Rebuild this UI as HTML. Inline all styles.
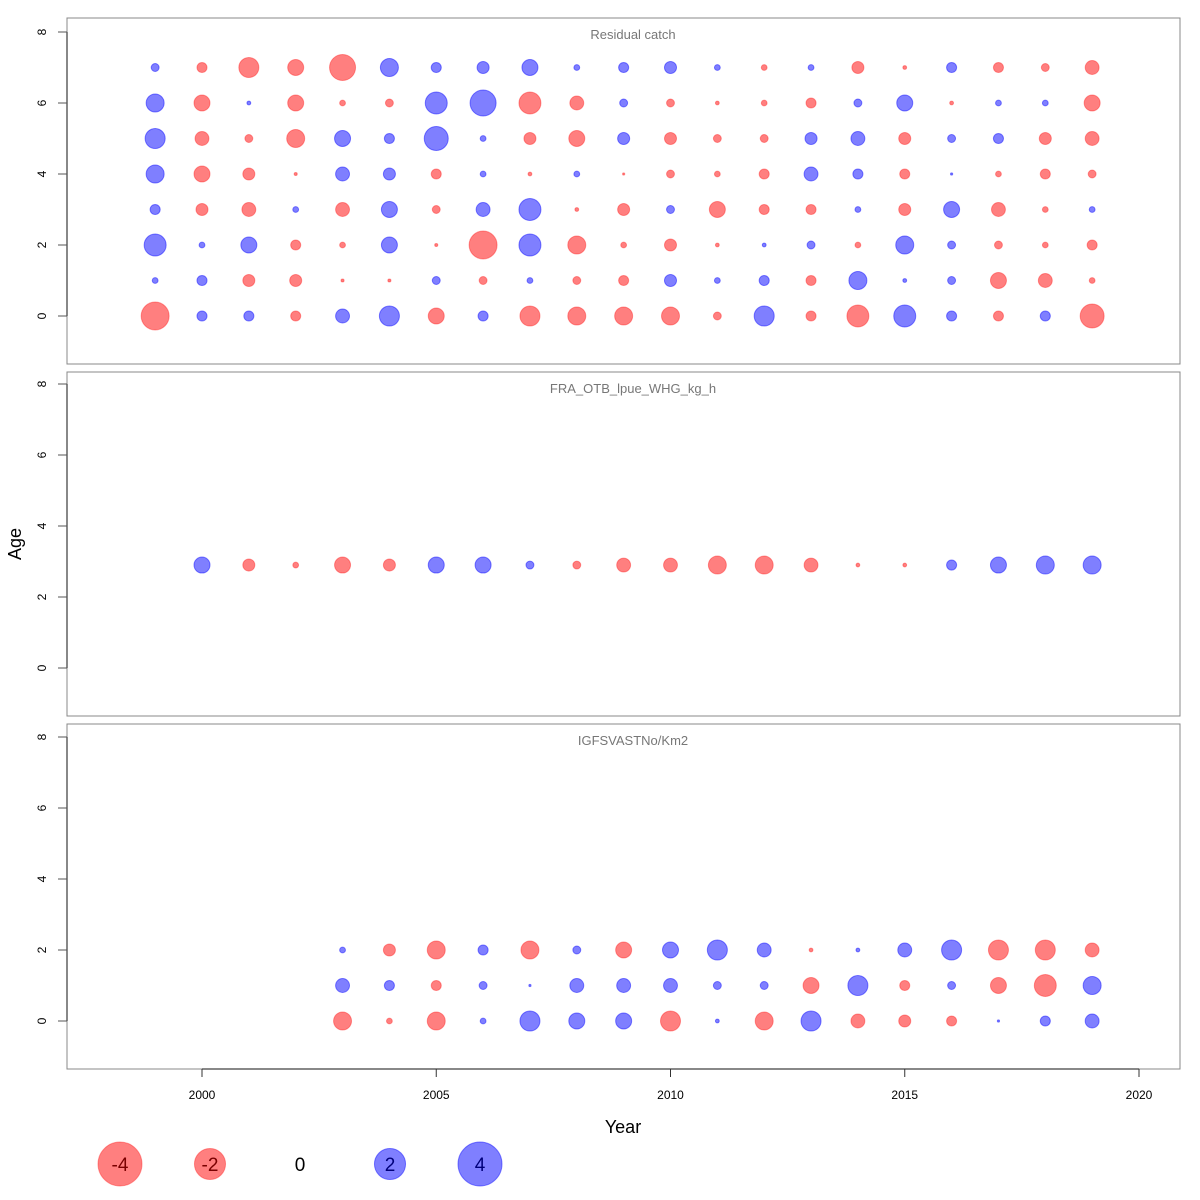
<!DOCTYPE html>
<html><head><meta charset="utf-8"><style>
body{margin:0;background:#fff}
svg{display:block;font-family:"Liberation Sans","DejaVu Sans",sans-serif}
</style></head><body>
<svg id="chart" width="1200" height="1200" viewBox="0 0 1200 1200"></svg>
<script>
const years1 = [1999,2000,2001,2002,2003,2004,2005,2006,2007,2008,2009,2010,2011,2012,2013,2014,2015,2016,2017,2018,2019];
const catchAge0 = [-1.62,0.21,0.21,-0.21,0.4,0.83,-0.53,0.21,-0.83,-0.67,-0.67,-0.67,-0.13,0.83,-0.21,-1.0,1.0,0.21,-0.21,0.21,-1.19];
const catchAge1 = [0.07,0.21,-0.3,-0.3,-0.02,-0.02,0.13,-0.13,0.07,-0.13,-0.21,0.3,0.07,0.21,-0.21,0.67,0.03,0.13,-0.53,-0.4,-0.07];
const catchAge2 = [1.0,0.07,0.53,-0.21,-0.07,0.53,-0.02,-1.62,1.0,-0.67,-0.07,-0.3,-0.03,0.03,0.13,-0.07,0.67,0.13,-0.13,-0.07,-0.21];
const catchAge3 = [0.21,-0.3,-0.4,0.07,-0.4,0.53,-0.13,0.4,1.0,-0.03,-0.3,0.13,-0.53,-0.21,-0.21,0.07,-0.3,0.53,-0.4,-0.07,0.07];
const catchAge4 = [0.67,-0.53,-0.3,-0.02,0.4,0.3,-0.21,0.07,-0.03,0.07,-0.01,-0.13,-0.07,-0.21,0.4,0.21,-0.21,0.01,-0.07,-0.21,-0.13];
const catchAge5 = [0.83,-0.4,-0.13,-0.67,0.53,0.21,1.19,0.07,-0.3,-0.53,0.3,-0.3,-0.13,-0.13,0.3,0.4,-0.3,0.13,0.21,-0.3,-0.4];
const catchAge6 = [0.67,-0.53,0.03,-0.53,-0.07,-0.13,1.0,1.4,-1.0,-0.4,0.13,-0.13,-0.03,-0.07,-0.21,0.13,0.53,-0.03,0.07,0.07,-0.53];
const catchAge7 = [0.13,-0.21,-0.83,-0.53,-1.4,0.67,0.21,0.3,0.53,0.07,0.21,0.3,0.07,-0.07,0.07,-0.3,-0.03,0.21,-0.21,-0.13,-0.4];
const years2 = [2000,2001,2002,2003,2004,2005,2006,2007,2008,2009,2010,2011,2012,2013,2014,2015,2016,2017,2018,2019];
const lpueAge = 2.9;
const lpueVals = [0.53,-0.3,-0.07,-0.53,-0.3,0.53,0.53,0.13,-0.13,-0.4,-0.4,-0.67,-0.67,-0.4,-0.03,-0.03,0.21,0.53,0.67,0.67];
const years3 = [2003,2004,2005,2006,2007,2008,2009,2010,2011,2012,2013,2014,2015,2016,2017,2018,2019];
const surveyAge0 = [-0.67,-0.07,-0.67,0.07,0.83,0.53,0.53,-0.83,0.03,-0.67,0.83,-0.4,-0.3,-0.21,0.01,0.21,0.4];
const surveyAge1 = [0.4,0.21,-0.21,0.13,0.01,0.4,0.4,0.4,0.13,0.13,-0.53,0.83,-0.21,0.13,-0.53,-1.0,0.67];
const surveyAge2 = [0.07,-0.3,-0.67,0.21,-0.67,0.13,-0.53,0.53,0.83,0.4,-0.03,0.03,0.4,0.83,-0.83,-0.83,-0.4];
const xTicks = [2000,2005,2010,2015,2020];
const yTicks = [0,2,4,6,8];
const legendVals = [-4,-2,0,2,4];

const NS="http://www.w3.org/2000/svg";
const svg=document.getElementById('chart');
function el(tag,attrs,parent){const e=document.createElementNS(NS,tag);for(const k in attrs)e.setAttribute(k,attrs[k]);(parent||svg).appendChild(e);return e;}
const xScale=y=>202+(y-2000)*46.85;
const rScale=v=>11*Math.sqrt(Math.abs(v));
const panels=[
 {top:18,bot:364,zero:316,title:'Residual catch',name:'panel-residual-catch'},
 {top:372,bot:716,zero:668,title:'FRA_OTB_lpue_WHG_kg_h',name:'panel-fra-lpue'},
 {top:724,bot:1069,zero:1021,title:'IGFSVASTNo/Km2',name:'panel-igfs-survey'}];
function bubble(g,year,age,v,p){
  const c=el('circle',{cx:xScale(year),cy:p.zero-age*35.5,r:rScale(v),fill:v<0?'rgba(255,0,0,0.5)':'rgba(0,0,255,0.5)',stroke:v<0?'rgba(255,0,0,0.35)':'rgba(0,0,255,0.45)','stroke-width':1},g);
  
  
}
panels.forEach((p,i)=>{
  const g=el('g',{});
  
  
  const fr=el('rect',{x:67,y:p.top,width:1113,height:p.bot-p.top,fill:'none',stroke:'#888','stroke-width':1},g);
  
  
  const t=el('text',{x:633,y:p.top+21,'font-size':13,fill:'#777','text-anchor':'middle'},g);
  t.textContent=p.title;
  
  
  const ya=el('g',{},g);
  
  
  el('line',{x1:67,x2:67,y1:p.zero,y2:p.zero-8*35.5,stroke:'#111'},ya);
  yTicks.forEach(v=>{
    const y=p.zero-v*35.5;
    el('line',{x1:58,x2:67,y1:y,y2:y,stroke:'#555'},ya);
    const tx=el('text',{x:46,y:y,'font-size':12,'text-anchor':'middle',transform:`rotate(-90 46 ${y})`},ya);
    tx.textContent=v;
    
    
  });
});
const P=panels;
[catchAge0,catchAge1,catchAge2,catchAge3,catchAge4,catchAge5,catchAge6,catchAge7].forEach((arr,a)=>arr.forEach((v,j)=>bubble(svg,years1[j],a,v,P[0])));
lpueVals.forEach((v,j)=>bubble(svg,years2[j],lpueAge,v,P[1]));
[surveyAge0,surveyAge1,surveyAge2].forEach((arr,a)=>arr.forEach((v,j)=>bubble(svg,years3[j],a,v,P[2])));
const xa=el('g',{});


el('line',{x1:xScale(2000),x2:xScale(2020),y1:1069,y2:1069,stroke:'#111'},xa);
xTicks.forEach(v=>{
  el('line',{x1:xScale(v),x2:xScale(v),y1:1069,y2:1077,stroke:'#333'},xa);
  const tx=el('text',{x:xScale(v),y:1099,'font-size':12,'text-anchor':'middle'},xa);
  tx.textContent=v;
  
  
});
const xt=el('text',{x:623,y:1133,'font-size':18,'text-anchor':'middle'});
xt.textContent='Year';


const yt=el('text',{x:21,y:544,'font-size':18,'text-anchor':'middle',transform:'rotate(-90 21 544)'});
yt.textContent='Age';


legendVals.forEach((v,i)=>{
  const g=el('g',{});
  
  
  const cx=120+i*90;
  if(v!==0) el('circle',{cx:cx,cy:1164,r:rScale(v),fill:v<0?'rgba(255,0,0,0.5)':'rgba(0,0,255,0.5)',stroke:v<0?'rgba(255,0,0,0.35)':'rgba(0,0,255,0.45)'},g);
  const tx=el('text',{x:cx,y:1171,'font-size':19,'text-anchor':'middle',fill:v<0?'#7a0000':(v>0?'#00007a':'#000')},g);
  tx.textContent=v;
});
</script>
</body></html>
